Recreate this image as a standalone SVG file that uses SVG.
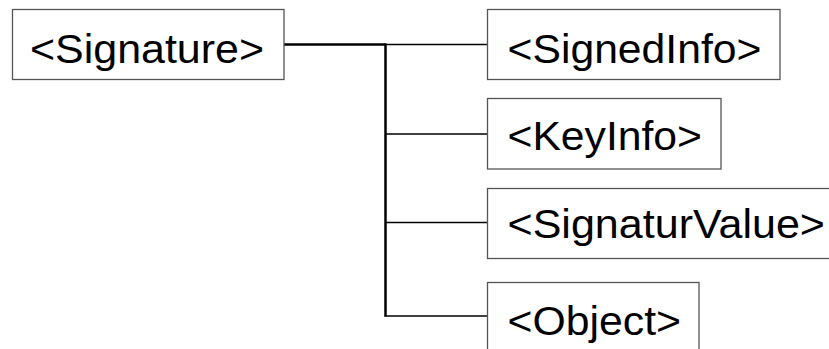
<svg xmlns="http://www.w3.org/2000/svg" width="829" height="349" viewBox="0 0 829 349">
<style>
.box{fill:#ffffff;stroke:#555555;stroke-width:1.3}
.lbl{font-family:"Liberation Sans",Arial,sans-serif;font-size:41.5px;fill:#000000}
.thick{stroke:#000000;stroke-width:2.5;fill:none}
.thin{stroke:#000000;stroke-width:1.5;fill:none}
</style>
<rect width="829" height="349" fill="#ffffff"/>
<g id="connectors">
<line class="thick" x1="284" y1="44.5" x2="386" y2="44.5"/>
<line class="thick" x1="385.5" y1="43.5" x2="385.5" y2="316.5"/>
<line class="thin" x1="386" y1="44.5" x2="487.5" y2="44.5"/>
<line class="thin" x1="386" y1="134" x2="487.5" y2="134"/>
<line class="thin" x1="386" y1="222.5" x2="487.5" y2="222.5"/>
<line class="thin" x1="384.5" y1="316" x2="487.5" y2="316"/>
</g>
<g id="signature">
<rect class="box" x="12.5" y="9.5" width="271.5" height="70"/>
<text class="lbl" x="30" y="62.5" textLength="234" lengthAdjust="spacingAndGlyphs">&lt;Signature&gt;</text>
</g>
<g id="signedinfo">
<rect class="box" x="487.5" y="9.5" width="292.5" height="70"/>
<text class="lbl" x="507.5" y="62.5" textLength="254" lengthAdjust="spacingAndGlyphs">&lt;SignedInfo&gt;</text>
</g>
<g id="keyinfo">
<rect class="box" x="487.5" y="98.5" width="233.5" height="70.5"/>
<text class="lbl" x="507.5" y="150" textLength="194.5" lengthAdjust="spacingAndGlyphs">&lt;KeyInfo&gt;</text>
</g>
<g id="signaturvalue">
<rect class="box" x="487.5" y="188.5" width="350" height="70"/>
<text class="lbl" x="507.5" y="238" textLength="317.5" lengthAdjust="spacingAndGlyphs">&lt;SignaturValue&gt;</text>
</g>
<g id="object">
<rect class="box" x="487.5" y="282.5" width="211.5" height="80"/>
<text class="lbl" x="507.5" y="334.5" textLength="173.5" lengthAdjust="spacingAndGlyphs">&lt;Object&gt;</text>
</g>
</svg>
